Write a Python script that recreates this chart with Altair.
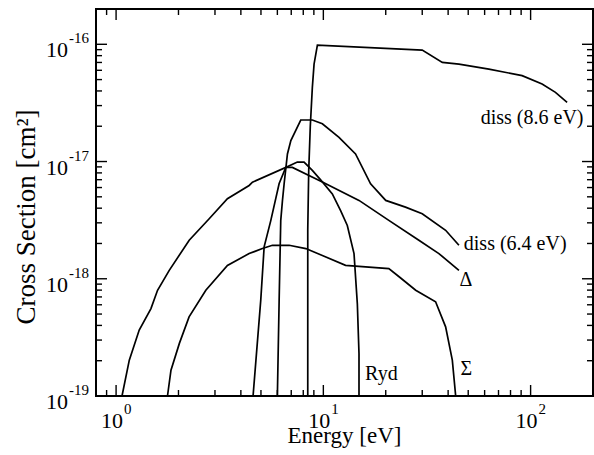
import altair as alt
import pandas as pd

# ---------------- data ----------------
diss86_E = [8.41, 8.41, 8.5, 8.65, 8.85, 9.02, 9.36, 30.0, 37.5, 45.1, 62.9, 91.0, 113.6, 131.8, 150.0]
diss86_S = [1e-19, 2.6e-18, 8.4e-18, 2.0e-17, 4.29e-17, 6.78e-17, 9.84e-17, 8.93e-17, 7.0e-17, 6.78e-17,
            6.15e-17, 5.4e-17, 4.58e-17, 3.89e-17, 3.2e-17]

diss64_E = [6.0, 6.12, 6.23, 6.35, 6.47, 6.71, 6.97, 7.78, 8.85, 9.89, 11.9, 14.3, 16.9, 20.0, 24.9, 30.0, 38.9, 45.1]
diss64_S = [1e-19, 6.6e-19, 3.15e-18, 4.66e-18, 6.5e-18, 1.16e-17, 1.51e-17, 2.26e-17, 2.26e-17, 2.1e-17,
            1.61e-17, 1.16e-17, 6.46e-18, 4.66e-18, 4.08e-18, 3.59e-18, 2.59e-18, 1.93e-18]

delta_E = [1.068, 1.158, 1.293, 1.473, 1.585, 1.805, 2.253, 2.813, 3.445, 4.385, 4.55, 6.59, 7.09, 9.89,
           14.86, 20.7, 28.9, 36.1, 45.1]
delta_S = [1e-19, 2.02e-19, 3.65e-19, 5.57e-19, 7.98e-19, 1.18e-18, 2.13e-18, 3.25e-18, 4.82e-18, 6.25e-18,
           6.67e-18, 8.9e-18, 8.9e-18, 6.7e-18, 4.66e-18, 3.15e-18, 2.13e-18, 1.64e-18, 1.18e-18]

sigma_E = [1.77, 1.84, 2.02, 2.25, 2.71, 3.445, 4.385, 5.08, 5.68, 6.84, 8.23, 9.89, 12.8, 20.7, 23.2, 27.9,
           34.8, 38.9, 41.9, 43.5]
sigma_S = [1e-19, 1.66e-19, 2.81e-19, 4.73e-19, 7.98e-19, 1.30e-18, 1.64e-18, 1.81e-18, 1.93e-18, 1.93e-18,
           1.81e-18, 1.58e-18, 1.30e-18, 1.22e-18, 1.04e-18, 7.98e-19, 6.36e-19, 3.89e-19, 2.02e-19, 1e-19]

ryd_E = [4.58, 4.99, 5.18, 5.58, 6.12, 6.59, 7.49, 8.07, 8.85, 9.89, 11.05, 12.13, 13.05, 14.06, 14.59, 14.86, 14.86]
ryd_S = [1e-19, 6.6e-19, 1.87e-18, 3.15e-18, 6.5e-18, 8.9e-18, 9.9e-18, 9.9e-18, 8.4e-18, 6.7e-18, 5.3e-18,
         3.8e-18, 2.85e-18, 1.64e-18, 6.1e-19, 2.3e-19, 1e-19]

label_text = ["diss (8.6 eV)", "diss (6.4 eV)", "\u0394", "\u03a3", "Ryd"]
label_E = [180.0, 47.6, 45.4, 45.9, 15.9]
label_S = [2.08e-17, 1.77e-18, 8.6e-19, 1.51e-19, 1.37e-19]
label_align = ["right", "left", "left", "left", "left"]

x_major = [1, 10, 100]
x_major_exp = ["0", "1", "2"]
x_minor = [0.8, 0.9, 2, 3, 4, 5, 6, 7, 8, 9, 20, 30, 40, 50, 60, 70, 80, 90, 200]
y_major = [1e-19, 1e-18, 1e-17, 1e-16]
y_major_exp = ["-19", "-18", "-17", "-16"]
y_minor = [m * d for d in (1e-19, 1e-18, 1e-17) for m in range(2, 10)] + [2e-16]

x_title = "Energy [eV]"
y_title = "Cross Section [cm\u00b2]"

# ---------------- build ----------------
W, H = 497, 387
FONT = "Liberation Serif, Times New Roman, DejaVu Serif, serif"
xs = alt.Scale(type="log", domain=[0.8, 200])
ys = alt.Scale(type="log", domain=[1e-19, 2e-16])

rows = []
for name, E, S in [("diss86", diss86_E, diss86_S), ("diss64", diss64_E, diss64_S),
                   ("delta", delta_E, delta_S), ("sigma", sigma_E, sigma_S), ("ryd", ryd_E, ryd_S)]:
    for i, (e, s) in enumerate(zip(E, S)):
        rows.append({"series": name, "E": e, "S": s, "i": i})
curves = pd.DataFrame(rows)

X = lambda f: alt.X(f, scale=xs, axis=None)
Y = lambda f: alt.Y(f, scale=ys, axis=None)

lines = alt.Chart(curves).mark_line(color="black", strokeWidth=1.7, clip=True).encode(
    x=X("E:Q"), y=Y("S:Q"), detail="series:N", order="i:Q")

labels = pd.DataFrame({"t": label_text, "E": label_E, "S": label_S, "a": label_align})
lab_r = alt.Chart(labels[labels.a == "right"]).mark_text(
    font=FONT, fontSize=20, align="right", baseline="alphabetic", color="black").encode(
    x=X("E:Q"), y=Y("S:Q"), text="t:N")
lab_l = alt.Chart(labels[labels.a == "left"]).mark_text(
    font=FONT, fontSize=20, align="left", baseline="alphabetic", color="black").encode(
    x=X("E:Q"), y=Y("S:Q"), text="t:N")

def xticks(vals, ln):
    d = pd.DataFrame({"v": vals})
    b = alt.Chart(d).mark_rule(color="black", strokeWidth=1.4).encode(
        x=X("v:Q"), y=alt.value(H), y2=alt.value(H - ln))
    t = alt.Chart(d).mark_rule(color="black", strokeWidth=1.4).encode(
        x=X("v:Q"), y=alt.value(0), y2=alt.value(ln))
    return [b, t]

def yticks(vals, ln):
    d = pd.DataFrame({"v": vals})
    l = alt.Chart(d).mark_rule(color="black", strokeWidth=1.4).encode(
        y=Y("v:Q"), x=alt.value(0), x2=alt.value(ln))
    r = alt.Chart(d).mark_rule(color="black", strokeWidth=1.4).encode(
        y=Y("v:Q"), x=alt.value(W), x2=alt.value(W - ln))
    return [l, r]

ticks = xticks(x_major, 11) + xticks(x_minor, 6) + yticks(y_major, 11) + yticks(y_minor, 6)

xl = pd.DataFrame({"v": x_major, "e": x_major_exp, "b": ["10"] * len(x_major)})
xlab_base = alt.Chart(xl).mark_text(font=FONT, fontSize=22, align="right", baseline="alphabetic",
                                    dx=7, color="black").encode(x=X("v:Q"), y=alt.value(H + 32), text="b:N")
xlab_exp = alt.Chart(xl).mark_text(font=FONT, fontSize=15, align="left", baseline="alphabetic",
                                   dx=8, color="black").encode(x=X("v:Q"), y=alt.value(H + 18), text="e:N")

yl = pd.DataFrame({"v": y_major, "e": y_major_exp, "b": ["10"] * len(y_major)})
ylab_base = alt.Chart(yl).mark_text(font=FONT, fontSize=22, align="right", baseline="alphabetic",
                                    dy=13, color="black").encode(y=Y("v:Q"), x=alt.value(-28), text="b:N")
ylab_exp = alt.Chart(yl).mark_text(font=FONT, fontSize=15, align="left", baseline="alphabetic",
                                   dy=-1, color="black").encode(y=Y("v:Q"), x=alt.value(-27), text="e:N")

xt = alt.Chart(pd.DataFrame({"t": [x_title]})).mark_text(
    font=FONT, fontSize=23, align="center", baseline="alphabetic", color="black").encode(
    x=alt.value(W / 2), y=alt.value(H + 47), text="t:N")
yt = alt.Chart(pd.DataFrame({"t": [y_title]})).mark_text(
    font=FONT, fontSize=27, align="center", baseline="alphabetic", angle=270, color="black").encode(
    x=alt.value(-61), y=alt.value(208), text="t:N")

chart = alt.layer(lines, lab_r, lab_l, *ticks, xlab_base, xlab_exp, ylab_base, ylab_exp, xt, yt).properties(
    width=W, height=H,
    background="white",
    autosize=alt.AutoSizeParams(type="none"),
    padding={"left": 96, "top": 9, "right": 1, "bottom": 59},
).configure_view(stroke="black", strokeWidth=2)

chart.save("out.html", embed_options={"renderer": "svg", "actions": False})
